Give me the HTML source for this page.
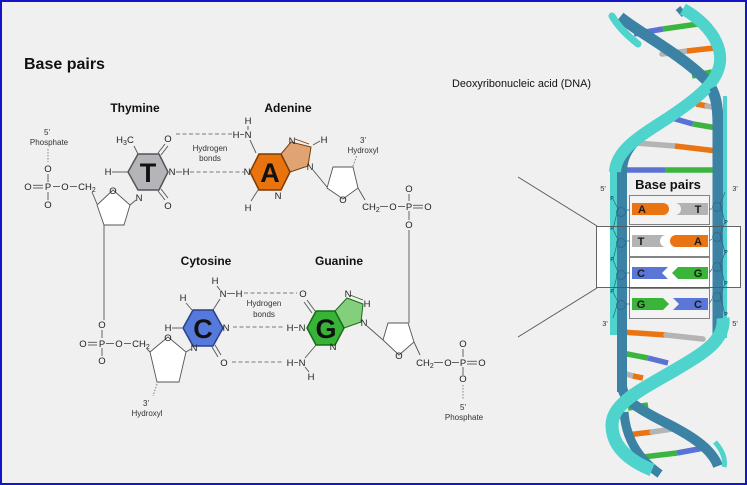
<!DOCTYPE html>
<html><head><meta charset="utf-8"><style>
html,body{margin:0;padding:0;background:#f0f0f0;}
svg{display:block;}
text{font-family:"Liberation Sans",Arial,sans-serif;}
</style></head><body>
<svg width="747" height="485" viewBox="0 0 747 485" xmlns="http://www.w3.org/2000/svg">
<rect x="0" y="0" width="747" height="485" fill="#f0f0f0"/>

<!-- Titles -->
<text x="24" y="69" font-size="16" font-weight="bold" fill="#111">Base pairs</text>
<text x="135" y="112" font-size="12" font-weight="bold" fill="#111" text-anchor="middle">Thymine</text>
<text x="288" y="112" font-size="12" font-weight="bold" fill="#111" text-anchor="middle">Adenine</text>
<text x="206" y="265" font-size="12" font-weight="bold" fill="#111" text-anchor="middle">Cytosine</text>
<text x="339" y="265" font-size="12" font-weight="bold" fill="#111" text-anchor="middle">Guanine</text>
<text x="452" y="87" font-size="11" fill="#111" textLength="139" lengthAdjust="spacingAndGlyphs">Deoxyribonucleic acid (DNA)</text>

<!-- ===== Bond lines ===== -->
<g stroke="#555" stroke-width="0.9" fill="none">
  <line x1="48" y1="174" x2="48" y2="182"/>
  <line x1="48" y1="192" x2="48" y2="200"/>
  <line x1="33" y1="185.3" x2="43" y2="185.3"/><line x1="33" y1="188" x2="43" y2="188"/>
  <line x1="53" y1="186.5" x2="60" y2="186.5"/>
  <line x1="70" y1="186.5" x2="77" y2="186.5"/>
  <line x1="92" y1="192" x2="97" y2="204"/>
  <line x1="130" y1="205" x2="136" y2="200"/>
  <line x1="104" y1="225" x2="104" y2="320"/>
  <line x1="134" y1="146" x2="138" y2="154"/>
  <line x1="112" y1="172" x2="128" y2="172"/>
  <line x1="158" y1="153" x2="165" y2="144"/><line x1="161" y1="155" x2="168" y2="146"/>
  <line x1="176" y1="172" x2="182" y2="172"/>
  <line x1="158" y1="191" x2="165" y2="200"/><line x1="161" y1="189" x2="168" y2="198"/>
  <line x1="240" y1="134.5" x2="244" y2="134.5"/>
  <line x1="248" y1="126" x2="248" y2="130"/>
  <line x1="250" y1="140" x2="256" y2="153"/>
  <line x1="258" y1="190" x2="251" y2="201"/>
  <line x1="313" y1="145" x2="320" y2="141"/>
  <line x1="313" y1="170" x2="327" y2="187"/>
  <line x1="358" y1="188" x2="365" y2="200"/>
  <line x1="380" y1="206.5" x2="388" y2="206.5"/>
  <line x1="398" y1="206.5" x2="405" y2="206.5"/>
  <line x1="413" y1="205.3" x2="423" y2="205.3"/><line x1="413" y1="208" x2="423" y2="208"/>
  <line x1="409" y1="194" x2="409" y2="201"/>
  <line x1="409" y1="211" x2="409" y2="220"/>
  <line x1="409" y1="230" x2="409" y2="323"/>
  <line x1="186" y1="303" x2="192" y2="310"/>
  <line x1="172" y1="328" x2="182" y2="328"/>
  <line x1="213" y1="310" x2="220" y2="299"/>
  <line x1="227" y1="293.5" x2="235" y2="293.5"/>
  <line x1="217" y1="286" x2="220" y2="290"/>
  <line x1="212" y1="347" x2="218" y2="357"/><line x1="215" y1="345" x2="221" y2="355"/>
  <line x1="191" y1="349" x2="186" y2="352"/>
  <line x1="147" y1="349" x2="150" y2="352"/>
  <line x1="88" y1="342.3" x2="97" y2="342.3"/><line x1="88" y1="345" x2="97" y2="345"/>
  <line x1="106" y1="343.5" x2="114" y2="343.5"/>
  <line x1="124" y1="343.5" x2="131" y2="343.5"/>
  <line x1="102" y1="330" x2="102" y2="338"/>
  <line x1="102" y1="348" x2="102" y2="356"/>
  <line x1="315" y1="311" x2="307" y2="300"/><line x1="312" y1="313" x2="304" y2="302"/>
  <line x1="294" y1="327.5" x2="298" y2="327.5"/>
  <line x1="294" y1="362.5" x2="298" y2="362.5"/>
  <line x1="305" y1="358" x2="316" y2="345"/>
  <line x1="305" y1="367" x2="309" y2="372"/>
  <line x1="367" y1="326" x2="383" y2="340"/>
  <line x1="414" y1="342" x2="420" y2="355"/>
  <line x1="434" y1="362.5" x2="443" y2="362.5"/>
  <line x1="452" y1="362.5" x2="459" y2="362.5"/>
  <line x1="467" y1="361.3" x2="477" y2="361.3"/><line x1="467" y1="364" x2="477" y2="364"/>
  <line x1="463" y1="349" x2="463" y2="357"/>
  <line x1="463" y1="367" x2="463" y2="375"/>
</g>

<g stroke="#777" stroke-width="0.9" fill="none">
  <line x1="48" y1="149" x2="48" y2="162" stroke-dasharray="1.5,1.5"/>
  <line x1="353" y1="166" x2="357" y2="155" stroke-dasharray="1.5,1.5"/>
  <line x1="157" y1="384" x2="153" y2="396" stroke-dasharray="1.5,1.5"/>
  <line x1="463" y1="385" x2="463" y2="399" stroke-dasharray="1.5,1.5"/>
  <line x1="176" y1="134" x2="233" y2="134" stroke-dasharray="4,2.5"/>
  <line x1="190" y1="172" x2="244" y2="172" stroke-dasharray="4,2.5"/>
  <line x1="244" y1="293" x2="297" y2="293" stroke-dasharray="4,2.5"/>
  <line x1="233" y1="327" x2="285" y2="327" stroke-dasharray="4,2.5"/>
  <line x1="232" y1="362" x2="284" y2="362" stroke-dasharray="4,2.5"/>
</g>

<g fill="#fff" stroke="#555" stroke-width="0.9">
  <polygon points="97,205 113,190 130,205 124,225 104,225"/>
  <polygon points="333,167 353,167 358,188 343,199 327,188"/>
  <polygon points="150,352 168,337 186,352 179,382 157,382"/>
  <polygon points="388,323 408,323 414,342 399,355 383,340"/>
</g>

<polygon points="128,172 138,154 159,154 168,172 159,190 138,190" fill="#b5b5b9" stroke="#555" stroke-width="1.5"/>
<polygon points="281,154 291,142 311,147 308,166 290,172" fill="#e0a474" stroke="#7a3c05" stroke-width="1"/>
<line x1="295" y1="139" x2="309" y2="144" stroke="#7a3c05" stroke-width="0.9"/>
<polygon points="250,172 259,154 281,154 290,172 281,190 259,190" fill="#e8730f" stroke="#7a3c05" stroke-width="1.5"/>
<polygon points="183,328 193,310 213,310 223,328 213,346 193,346" fill="#5679dc" stroke="#28408a" stroke-width="1.5"/>
<polygon points="335,311 347,298 363,304 361,322 344,328" fill="#84cf7c" stroke="#1a6a1a" stroke-width="1"/>
<line x1="350" y1="295" x2="363" y2="300" stroke="#1a6a1a" stroke-width="0.9"/>
<polygon points="307,328 316,311 335,311 344,328 335,345 316,345" fill="#37b336" stroke="#1a6a1a" stroke-width="1.5"/>

<g font-size="27" font-weight="bold" fill="#111" text-anchor="middle">
  <text x="148" y="182">T</text>
  <text x="270" y="182">A</text>
  <text x="203" y="338">C</text>
  <text x="326" y="338">G</text>
</g>

<g font-size="9.5" fill="#222" text-anchor="middle">
  <text x="48" y="172">O</text>
  <text x="28" y="190">O</text>
  <text x="48" y="190">P</text>
  <text x="65" y="190">O</text>
  <text x="87" y="190">CH<tspan font-size="7" dy="2">2</tspan></text>
  <text x="48" y="208">O</text>
  <text x="113" y="194">O</text>
  <text x="125" y="143">H<tspan font-size="7" dy="2">3</tspan><tspan dy="-2">C</tspan></text>
  <text x="108" y="175">H</text>
  <text x="168" y="142">O</text>
  <text x="172" y="175">N</text>
  <text x="186" y="175">H</text>
  <text x="168" y="209">O</text>
  <text x="139" y="201">N</text>
  <text x="236" y="138">H</text>
  <text x="248" y="138">N</text>
  <text x="248" y="124">H</text>
  <text x="247" y="175">N</text>
  <text x="278" y="199">N</text>
  <text x="248" y="211">H</text>
  <text x="292" y="144">N</text>
  <text x="324" y="143">H</text>
  <text x="310" y="170">N</text>
  <text x="343" y="203">O</text>
  <text x="371" y="210">CH<tspan font-size="7" dy="2">2</tspan></text>
  <text x="393" y="210">O</text>
  <text x="409" y="210">P</text>
  <text x="428" y="210">O</text>
  <text x="409" y="192">O</text>
  <text x="409" y="228">O</text>
  <text x="183" y="301">H</text>
  <text x="168" y="331">H</text>
  <text x="215" y="284">H</text>
  <text x="223" y="297">N</text>
  <text x="239" y="297">H</text>
  <text x="226" y="331">N</text>
  <text x="194" y="351">N</text>
  <text x="224" y="366">O</text>
  <text x="168" y="341">O</text>
  <text x="83" y="347">O</text>
  <text x="102" y="347">P</text>
  <text x="119" y="347">O</text>
  <text x="141" y="347">CH<tspan font-size="7" dy="2">2</tspan></text>
  <text x="102" y="328">O</text>
  <text x="102" y="364">O</text>
  <text x="303" y="297">O</text>
  <text x="290" y="331">H</text>
  <text x="302" y="331">N</text>
  <text x="290" y="366">H</text>
  <text x="302" y="366">N</text>
  <text x="311" y="380">H</text>
  <text x="333" y="350">N</text>
  <text x="348" y="297">N</text>
  <text x="367" y="307">H</text>
  <text x="364" y="326">N</text>
  <text x="399" y="359">O</text>
  <text x="425" y="366">CH<tspan font-size="7" dy="2">2</tspan></text>
  <text x="448" y="366">O</text>
  <text x="463" y="366">P</text>
  <text x="482" y="366">O</text>
  <text x="463" y="347">O</text>
  <text x="463" y="382">O</text>
</g>

<g font-size="8" fill="#333" text-anchor="middle">
  <text x="47" y="135">5'</text>
  <text x="49" y="145">Phosphate</text>
  <text x="210" y="151">Hydrogen</text>
  <text x="210" y="161">bonds</text>
  <text x="363" y="143">3'</text>
  <text x="363" y="153">Hydroxyl</text>
  <text x="264" y="306">Hydrogen</text>
  <text x="264" y="317">bonds</text>
  <text x="146" y="406">3'</text>
  <text x="147" y="416">Hydroxyl</text>
  <text x="463" y="410">5'</text>
  <text x="464" y="420">Phosphate</text>
</g>

<line x1="518" y1="177" x2="597" y2="226" stroke="#555" stroke-width="0.9"/>
<line x1="518" y1="337" x2="597" y2="288" stroke="#555" stroke-width="0.9"/>
<rect x="596.5" y="226.5" width="144" height="61" fill="#fff"/>

<!-- ===== DNA helix ===== -->
<g stroke-width="5.5" fill="none">
  <line x1="634" y1="34" x2="663" y2="29" stroke="#5a72d4"/>
  <line x1="663" y1="29" x2="698" y2="24" stroke="#3bb53f"/>
  <line x1="662" y1="54" x2="687" y2="51" stroke="#b4b4b4" stroke-linecap="round"/>
  <line x1="687" y1="51" x2="714" y2="48" stroke="#ea7412"/>
  <line x1="692" y1="76" x2="712" y2="72" stroke="#3bb53f"/>
  <line x1="696" y1="104" x2="707" y2="106" stroke="#ea7412"/>
  <line x1="707" y1="106" x2="716" y2="108" stroke="#b4b4b4" stroke-linecap="round"/>
  <line x1="672" y1="118" x2="693" y2="124" stroke="#5a72d4"/>
  <line x1="693" y1="124" x2="717" y2="128" stroke="#3bb53f"/>
  <line x1="636" y1="143" x2="675" y2="146" stroke="#b4b4b4" stroke-linecap="round"/>
  <line x1="675" y1="146" x2="717" y2="151" stroke="#ea7412"/>
  <line x1="624" y1="170" x2="665" y2="170" stroke="#5a72d4"/>
  <line x1="665" y1="170" x2="714" y2="170" stroke="#3bb53f"/>
  <line x1="622" y1="332" x2="666" y2="335" stroke="#ea7412"/>
  <line x1="666" y1="335" x2="703" y2="339" stroke="#b4b4b4" stroke-linecap="round"/>
  <line x1="622" y1="353" x2="648" y2="358" stroke="#3bb53f"/>
  <line x1="648" y1="358" x2="668" y2="363" stroke="#5a72d4"/>
  <line x1="623" y1="373" x2="633" y2="376" stroke="#b4b4b4" stroke-linecap="round"/>
  <line x1="633" y1="376" x2="643" y2="378" stroke="#ea7412"/>
  <line x1="628" y1="408" x2="648" y2="405" stroke="#3bb53f"/>
  <line x1="627" y1="435" x2="652" y2="432" stroke="#ea7412"/>
  <line x1="652" y1="432" x2="679" y2="428" stroke="#b4b4b4" stroke-linecap="round"/>
  <line x1="643" y1="457" x2="677" y2="453" stroke="#3bb53f"/>
  <line x1="677" y1="453" x2="704" y2="448" stroke="#5a72d4"/>
</g>

<g fill="none">
  <path d="M620,17 C 638,32 682,55 706,80 C 716,92 718,106 718,125 L718,340" stroke="#3b82a5" stroke-width="11"/>
  <path d="M612,16 Q 620,30 638,44" stroke="#4fd3cd" stroke-width="7" stroke-linecap="round"/>
  <line x1="725" y1="96" x2="725" y2="338" stroke="#4fd3cd" stroke-width="4"/>
  <line x1="678" y1="8" x2="684" y2="15" stroke="#3b82a5" stroke-width="6"/>
  <path d="M660,122 C 636,138 622,150 622,172 L622,392" stroke="#3b82a5" stroke-width="10"/>
  <path d="M683,9 C 703,20 722,40 720,62 C 718,82 698,98 668,118 C 640,136 616,150 615,172" stroke="#4fd3cd" stroke-width="12"/>
  <path d="M712,88 L718,98" stroke="#3b82a5" stroke-width="6"/>
  <line x1="613.5" y1="165" x2="613.5" y2="335" stroke="#4fd3cd" stroke-width="7"/>
  <path d="M622,385 C 622,400 640,410 670,425 C 695,438 712,450 718,466" stroke="#3b82a5" stroke-width="10"/>
  <path d="M715,442 C 722,450 726,458 724,467" stroke="#4fd3cd" stroke-width="5"/>
  <path d="M718,330 C 718,345 705,352 690,360" stroke="#3b82a5" stroke-width="10"/>
  <path d="M624,412 C 626,440 640,460 660,474" stroke="#3b82a5" stroke-width="9"/>
  <path d="M723,318 C 725,340 705,352 680,367 C 645,388 612,402 612,425 C 612,447 630,461 652,470" stroke="#4fd3cd" stroke-width="13"/>
</g>

<g stroke="#666" stroke-width="0.8">
  <rect x="629.5" y="195.5" width="80" height="29" fill="#f3f3f3"/>
  <rect x="629.5" y="226.5" width="80" height="30" fill="#fff"/>
  <rect x="629.5" y="257.5" width="80" height="30" fill="#fff"/>
  <rect x="629.5" y="288.5" width="80" height="30" fill="#f3f3f3"/>
</g>

<path d="M632,203 L663,203 A6,6 0 0 1 663,215 L632,215 Z" fill="#ea7412"/>
<path d="M675,203 L708,203 L708,215 L675,215 A6,6 0 0 0 675,203 Z" fill="#b3b3b3"/>
<path d="M632,235 L666,235 A6,6 0 0 0 666,247 L632,247 Z" fill="#b3b3b3"/>
<path d="M676,235 L708,235 L708,247 L676,247 A6,6 0 0 1 676,235 Z" fill="#ea7412"/>
<path d="M632,267 L668,267 L662,273 L668,279 L632,279 Z" fill="#5a76d6"/>
<path d="M708,267 L678,267 L672,273 L678,279 L708,279 Z" fill="#3ab53a"/>
<path d="M632,298 L663,298 L669,304 L663,310 L632,310 Z" fill="#3ab53a"/>
<path d="M673,298 L708,298 L708,310 L673,310 L679,304 Z" fill="#5a76d6"/>

<g font-size="11" font-weight="bold" fill="#1a1a1a" text-anchor="middle">
  <text x="642" y="213">A</text>
  <text x="698" y="213">T</text>
  <text x="641" y="245">T</text>
  <text x="698" y="245">A</text>
  <text x="641" y="277">C</text>
  <text x="698" y="277">G</text>
  <text x="641" y="308">G</text>
  <text x="698" y="308">C</text>
</g>
<text x="668" y="189" font-size="13" font-weight="bold" fill="#111" text-anchor="middle">Base pairs</text>
<g font-size="7.5" fill="#333" text-anchor="middle">
  <text x="603" y="191">5'</text>
  <text x="735" y="191">3'</text>
  <text x="605" y="326">3'</text>
  <text x="735" y="326">5'</text>
</g>

<g stroke="#2a6684" stroke-width="0.7" fill="none">
  <circle cx="621" cy="212" r="4.5"/><circle cx="621" cy="243" r="4.5"/>
  <circle cx="621" cy="275" r="4.5"/><circle cx="621" cy="305" r="4.5"/>
  <circle cx="717" cy="207" r="4.5"/><circle cx="717" cy="237" r="4.5"/>
  <circle cx="717" cy="267" r="4.5"/><circle cx="717" cy="297" r="4.5"/>
  <polyline points="613,199 618,209 613,229 618,240 613,260 618,272 613,292 618,302 613,318"/>
  <polyline points="725,192 720,204 725,222 720,234 725,253 720,264 725,284 720,294 725,315"/>
  <line x1="626" y1="210" x2="630" y2="210"/><line x1="626" y1="241" x2="630" y2="241"/>
  <line x1="626" y1="273" x2="630" y2="273"/><line x1="626" y1="304" x2="630" y2="304"/>
  <line x1="709" y1="209" x2="712" y2="209"/><line x1="709" y1="241" x2="712" y2="239"/>
  <line x1="709" y1="273" x2="712" y2="269"/><line x1="709" y1="304" x2="712" y2="299"/>
</g>
<g font-size="5" font-weight="bold" fill="#1b4e66" text-anchor="middle">
  <text x="612" y="200">P</text><text x="612" y="230">P</text>
  <text x="612" y="261">P</text><text x="612" y="293">P</text>
  <text x="726" y="224">P</text><text x="726" y="254">P</text>
  <text x="726" y="285">P</text><text x="726" y="316">P</text>
</g>

<rect x="596.5" y="226.5" width="144" height="61" fill="none" stroke="#555" stroke-width="0.9"/>

<rect x="1" y="1" width="745" height="483" fill="none" stroke="#1515c8" stroke-width="2"/>
</svg>
</body></html>
